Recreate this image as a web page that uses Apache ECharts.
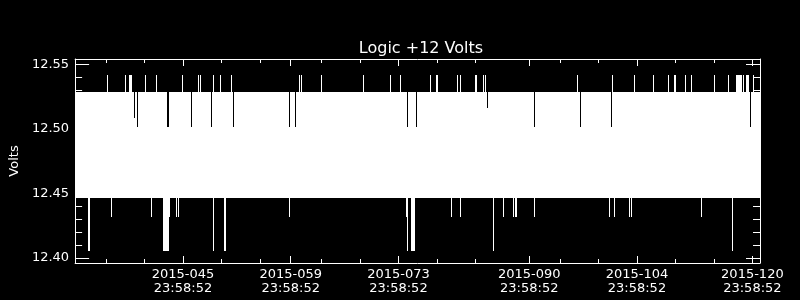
<!DOCTYPE html>
<html><head><meta charset="utf-8">
<script src="https://cdn.jsdelivr.net/npm/echarts@6/dist/echarts.min.js"></script>
<style>html,body{margin:0;padding:0;background:#000}#c{width:800px;height:300px}</style>
</head><body><div id="c"></div>
<script>
// ---- axis ranges (day of year 2015, fractional) ----
const X_MIN = 31.975, X_MAX = 120.99;
const Y_MIN = 12.396, Y_MAX = 12.554;

// ---- tick values and labels ----
const xTickValues = [46, 60, 74, 91, 105, 120];
const xTickDates = ['2015-045', '2015-059', '2015-073', '2015-090', '2015-104', '2015-120'];
const xTickTimes = ['23:58:52', '23:58:52', '23:58:52', '23:58:52', '23:58:52', '23:58:52'];
const xMinorTicks = [36, 41, 51, 56, 64, 69, 79, 84, 95, 100, 110, 115];
const yTickValues = [12.40, 12.45, 12.50, 12.55];
const yMinorTicks = [12.41, 12.42, 12.43, 12.44, 12.46, 12.47, 12.48, 12.49, 12.51, 12.52, 12.53, 12.54];

// ---- signal levels (Volts) ----
const bandLow = 12.4461;
const bandHigh = 12.5286;
const spikeHigh = 12.5418;
const spikeLowShort = 12.4319;
const spikeLowLong = 12.4051;

// ---- excursions above the band: [dayStart, dayEnd] ----
const upSpikes = [
  [36.115,36.115],[38.444,38.444],[38.962,39.220],[41.032,41.032],[42.455,42.455],
  [45.948,45.948],[47.979,47.979],[48.173,48.173],[49.920,49.920],[50.864,50.864],
  [52.288,52.288],[61.086,61.086],[61.344,61.344],[63.932,63.932],[69.366,69.366],
  [72.988,72.988],[74.282,74.282],[78.164,78.164],[78.940,79.070],[81.657,81.657],
  [82.045,82.045],[83.986,84.115],[85.021,85.021],[85.280,85.280],[97.183,97.183],
  [101.840,101.840],[104.687,104.687],[107.145,107.145],[109.085,109.085],[109.862,109.991],
  [111.311,111.311],[112.061,112.061],[115.037,115.037],[116.874,116.874],[117.883,118.530],
  [118.789,118.789],[119.177,119.436],[120.083,120.083]
];
// ---- columns where the maximum stays lower: [dayStart, dayEnd, maxValue] ----
const dips = [
  [39.608,39.608,12.508],[39.997,39.997,12.5015],[44.007,44.137,12.5015],[47.112,47.112,12.5015],
  [49.700,49.700,12.5015],[52.546,52.546,12.5015],[59.792,59.792,12.5015],[60.568,60.568,12.5015],
  [75.188,75.188,12.5015],[76.352,76.352,12.5015],[85.538,85.538,12.5157],[91.619,91.619,12.5015],
  [97.571,97.571,12.5015],[101.711,101.711,12.5015],[119.695,119.695,12.5015]
];
// ---- excursions below the band ----
const downShort = [
  [36.633,36.633],[41.808,41.808],[44.266,44.266],[45.172,45.172],[45.392,45.392],
  [59.792,59.792],[75.059,75.059],[80.881,80.881],[82.045,82.045],[87.608,87.608],
  [88.902,88.902],[89.161,89.290],[91.619,91.619],[101.452,101.452],[102.099,102.099],
  [104.040,104.040],[104.298,104.298],[113.355,113.355]
];
const downLong = [
  [33.657,33.786],[43.360,44.137],[49.920,49.920],[51.300,51.300],[51.511,51.511],
  [75.188,75.188],[75.706,76.094],[86.315,86.315],[117.366,117.366]
];

// ---- build band pieces (flags: 0 = plain edge, 1 = next to a dip, 2 = dip column) ----
const bandData = [];
(function () {
  const sorted = dips.slice().sort((a, b) => a[0] - b[0]);
  let cur = X_MIN, curFlag = 0;
  sorted.forEach(d => {
    bandData.push([cur, d[0], bandLow, bandHigh, curFlag, 1]);
    bandData.push([d[0], d[1], bandLow, d[2], 2, 2]);
    cur = d[1]; curFlag = 1;
  });
  bandData.push([cur, X_MAX, bandLow, bandHigh, curFlag, 0]);
})();
const spikeData = [];
upSpikes.forEach(s => spikeData.push([s[0], s[1], bandHigh, spikeHigh]));
downShort.forEach(s => spikeData.push([s[0], s[1], spikeLowShort, bandLow]));
downLong.forEach(s => spikeData.push([s[0], s[1], spikeLowLong, bandLow]));

const FONT = 'DejaVu Sans';
const col = px => Math.floor(px + 0.3);

function renderBand(params, api) {
  const a = api.coord([api.value(0), api.value(3)]);
  const b = api.coord([api.value(1), api.value(2)]);
  const fa = api.value(4), fb = api.value(5);
  let x0 = fa === 0 ? Math.round(a[0]) : (fa === 1 ? col(a[0]) + 1 : col(a[0]));
  let x1 = fb === 0 ? Math.round(b[0]) : (fb === 1 ? col(b[0]) : col(b[0]) + 1);
  if (x1 <= x0) return null;
  const y0 = Math.round(a[1]), y1 = Math.round(b[1]);
  return {type: 'rect', shape: {x: x0, y: y0, width: x1 - x0, height: y1 - y0},
          style: {fill: '#fff'}};
}
function renderSpike(params, api) {
  const a = api.coord([api.value(0), api.value(3)]);
  const b = api.coord([api.value(1), api.value(2)]);
  const x0 = col(a[0]), x1 = col(b[0]) + 1;
  const y0 = Math.round(a[1]), y1 = Math.round(b[1]);
  return {type: 'rect', shape: {x: x0, y: y0, width: x1 - x0, height: y1 - y0},
          style: {fill: '#fff'}};
}

function xAx(pos, ticks, len, withLine, withLabel) {
  return {
    type: 'value', min: X_MIN, max: X_MAX, position: pos,
    axisLine: {show: withLine, lineStyle: {color: '#fff', width: 1}},
    axisTick: {show: true, inside: true, length: len, customValues: ticks, lineStyle: {color: '#fff', width: 1}},
    axisLabel: withLabel ? {
      show: true, customValues: xTickValues, color: '#fff', fontFamily: FONT, fontSize: 13,
      lineHeight: 14, margin: 5,
      formatter: v => {
        let bi = 0;
        xTickValues.forEach((t, i) => { if (Math.abs(t - v) < Math.abs(xTickValues[bi] - v)) bi = i; });
        return xTickDates[bi] + '\n' + xTickTimes[bi];
      }
    } : {show: false},
    splitLine: {show: false}
  };
}
function yAx(pos, ticks, len, withLine, withLabel) {
  const o = {
    type: 'value', min: Y_MIN, max: Y_MAX, position: pos,
    axisLine: {show: withLine, lineStyle: {color: '#fff', width: 1}},
    axisTick: {show: true, inside: true, length: len, customValues: ticks, lineStyle: {color: '#fff', width: 1}},
    axisLabel: withLabel ? {
      show: true, customValues: yTickValues, color: '#fff', fontFamily: FONT, fontSize: 13, margin: 6,
      formatter: v => v.toFixed(2)
    } : {show: false},
    splitLine: {show: false}
  };
  if (withLabel) {
    o.name = 'Volts'; o.nameLocation = 'middle'; o.nameGap = 52;
    o.nameTextStyle = {color: '#fff', fontFamily: FONT, fontSize: 13};
  }
  return o;
}

const chart = echarts.init(document.getElementById('c'), null, {renderer: 'canvas'});
chart.setOption({
  backgroundColor: '#000',
  animation: false,
  title: {text: 'Logic +12 Volts', left: 416, top: 36, textAlign: 'center',
          textStyle: {color: '#fff', fontSize: 16, fontWeight: 'normal', fontFamily: FONT}},
  grid: {left: 72, top: 59, width: 688, height: 204, containLabel: false},
  xAxis: [
    xAx('bottom', xTickValues, 7, true, true),
    xAx('bottom', xMinorTicks, 4, false, false),
    xAx('top', xTickValues, 7, true, false),
    xAx('top', xMinorTicks, 4, false, false)
  ],
  yAxis: [
    yAx('left', yTickValues, 14, true, true),
    yAx('left', yMinorTicks, 7, false, false),
    yAx('right', yTickValues, 14, true, false),
    yAx('right', yMinorTicks, 7, false, false)
  ],
  series: [
    {type: 'custom', name: 'band', renderItem: renderBand, data: bandData,
     encode: {x: [0, 1], y: [2, 3]}, xAxisIndex: 0, yAxisIndex: 0, clip: true, silent: true, z: 1},
    {type: 'custom', name: 'spikes', renderItem: renderSpike, data: spikeData,
     encode: {x: [0, 1], y: [2, 3]}, xAxisIndex: 0, yAxisIndex: 0, clip: true, silent: true, z: 1}
  ]
});
</script></body></html>
